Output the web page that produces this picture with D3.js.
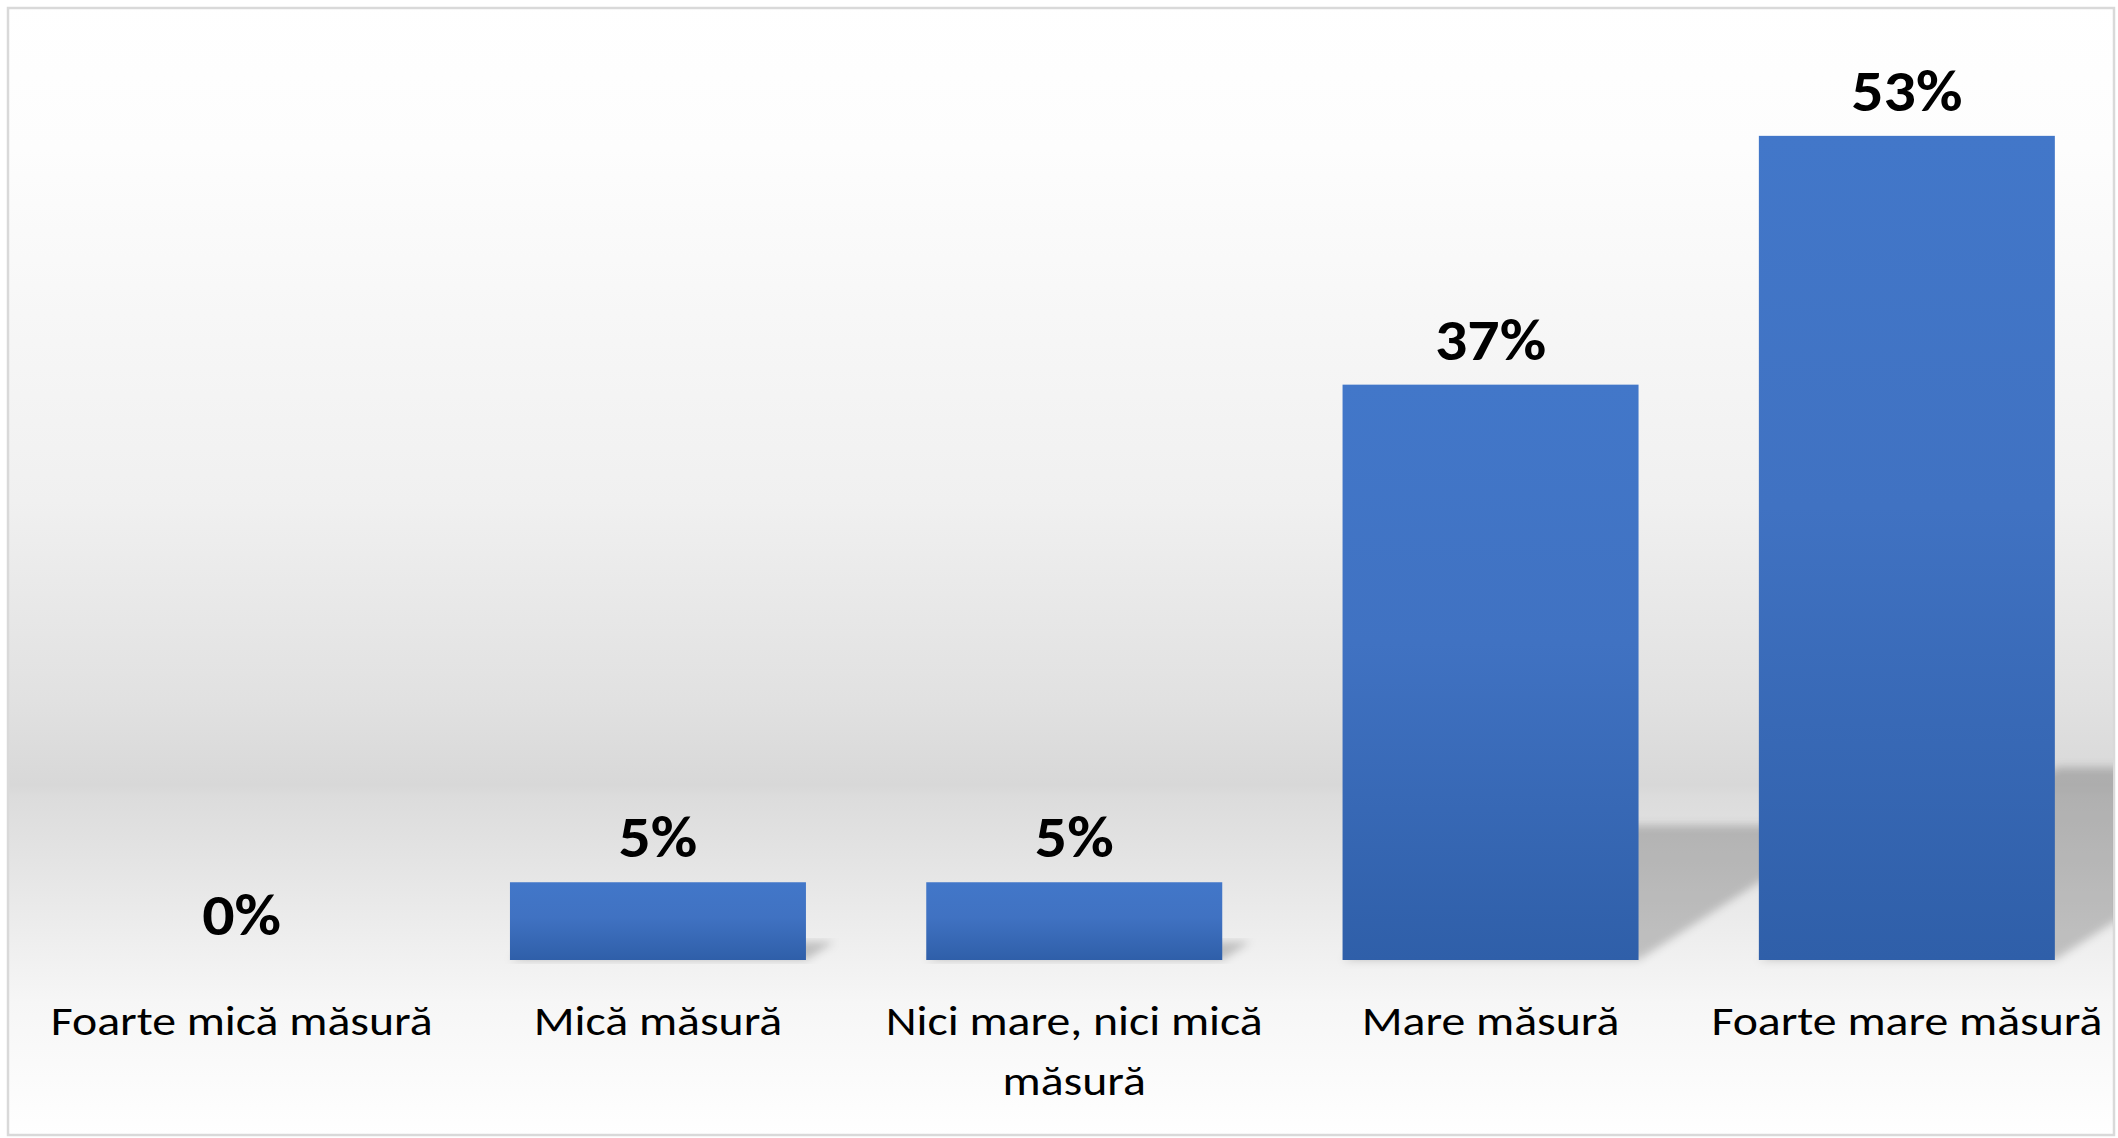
<!DOCTYPE html>
<html>
<head>
<meta charset="utf-8">
<script src="https://cdn.jsdelivr.net/npm/d3@7"></script>
<style>
  html, body { margin: 0; padding: 0; background: #ffffff; }
  svg { display: block; }
</style>
</head>
<body>
<svg id="chart" width="2118" height="1138"></svg>
<script>
const categories = ["Foarte mică măsură", "Mică măsură", "Nici mare, nici mică măsură", "Mare măsură", "Foarte mare măsură"];
const values = [0, 5, 5, 37, 53];
const valueLabels = ["0%", "5%", "5%", "37%", "53%"];

const W = 2118, H = 1138;
const svg = d3.select("#chart");
const defs = svg.append("defs");

// background gradient
const bg = defs.append("linearGradient").attr("id", "bgGrad")
  .attr("gradientUnits", "userSpaceOnUse").attr("x1", 0).attr("y1", 0).attr("x2", 0).attr("y2", H);
[[0, "#ffffff"], [0.13, "#fdfdfd"], [0.30, "#f6f6f6"], [0.44, "#f0f0f0"], [0.615, "#e1e1e1"],
 [0.69, "#d8d8d8"], [0.70, "#dcdcdc"], [0.75, "#e3e3e3"], [0.88, "#f6f6f6"], [1, "#ffffff"]]
  .forEach(([o, c]) => bg.append("stop").attr("offset", o).attr("stop-color", c));

// bar gradient
const bgBar = defs.append("linearGradient").attr("id", "barGrad")
  .attr("x1", 0).attr("y1", 0).attr("x2", 0).attr("y2", 1);
[[0, "#4277c9"], [0.45, "#4072c2"], [1, "#2f5fa9"]]
  .forEach(([o, c]) => bgBar.append("stop").attr("offset", o).attr("stop-color", c));

defs.append("filter").attr("id", "blur").attr("x", "-20%").attr("y", "-20%").attr("width", "140%").attr("height", "140%")
  .append("feGaussianBlur").attr("stdDeviation", 4);

defs.append("clipPath").attr("id", "clipArea")
  .append("rect").attr("x", 9).attr("y", 9).attr("width", 2104).attr("height", 1125);

// chart area
svg.append("rect").attr("x", 8).attr("y", 8).attr("width", 2106).attr("height", 1127)
  .attr("fill", "url(#bgGrad)").attr("stroke", "#d9d9d9").attr("stroke-width", 2.5);

const x = d3.scaleBand().domain(categories).range([33.5, 2115]).paddingInner(0.289).paddingOuter(0.1445);
const y = d3.scaleLinear().domain([0, 60]).range([960, 27]);

const data = categories.map((c, i) => ({ c, v: values[i], label: valueLabels[i] }));

// perspective shadows
const k = 0.234, skew = 1.55;
const shadowG = svg.append("g").attr("clip-path", "url(#clipArea)");
shadowG.selectAll("polygon").data(data.filter(d => d.v > 0)).join("polygon")
  .attr("points", d => {
    const L = x(d.c), R = x(d.c) + x.bandwidth(), B = y(0);
    const sh = (y(0) - y(d.v)) * k, s = sh * skew;
    return [[L, B], [R, B], [R + s, B - sh], [L + s, B - sh]].map(p => p.join(",")).join(" ");
  })
  .attr("fill", "#000").attr("fill-opacity", 0.2).attr("filter", "url(#blur)");

// bars
svg.append("g").selectAll("rect").data(data).join("rect")
  .attr("x", d => x(d.c)).attr("width", x.bandwidth())
  .attr("y", d => y(d.v)).attr("height", d => y(0) - y(d.v))
  .attr("fill", "url(#barGrad)");

// value labels
svg.append("g").selectAll("text").data(data).join("text")
  .attr("transform", d => `translate(${x(d.c) + x.bandwidth() / 2},${y(d.v) - 25}) scale(1.1,1)`)
  .attr("text-anchor", "middle")
  .attr("font-family", "Carlito, Lato, sans-serif")
  .attr("font-weight", "bold").attr("font-size", 58).attr("fill", "#000")
  .text(d => d.label);

// category axis labels
const labelScaleX = 1.165;
const xAxis = d3.axisBottom(x).tickSize(0).tickPadding(0);
const axG = svg.append("g").attr("transform", `translate(0,${y(0)})`).call(xAxis);
axG.select(".domain").remove();
axG.selectAll("text")
  .attr("font-family", "Carlito, Lato, sans-serif")
  .attr("font-size", 41).attr("fill", "#000")
  .attr("y", 75).attr("dy", 0)
  .attr("transform", `scale(${labelScaleX},1)`)
  .each(function () { wrap(d3.select(this), x.step() / labelScaleX); });

function wrap(text, width) {
  const words = text.text().split(/\s+/);
  const xx = text.attr("x") || 0, yy = +text.attr("y");
  text.text(null);
  let line = [], lineNo = 0;
  let tspan = text.append("tspan").attr("x", xx).attr("y", yy);
  words.forEach(w => {
    line.push(w);
    tspan.text(line.join(" "));
    if (tspan.node().getComputedTextLength() > width && line.length > 1) {
      line.pop();
      tspan.text(line.join(" "));
      line = [w];
      lineNo++;
      tspan = text.append("tspan").attr("x", xx).attr("y", yy + lineNo * 60).text(w);
    }
  });
}
</script>
</body>
</html>
